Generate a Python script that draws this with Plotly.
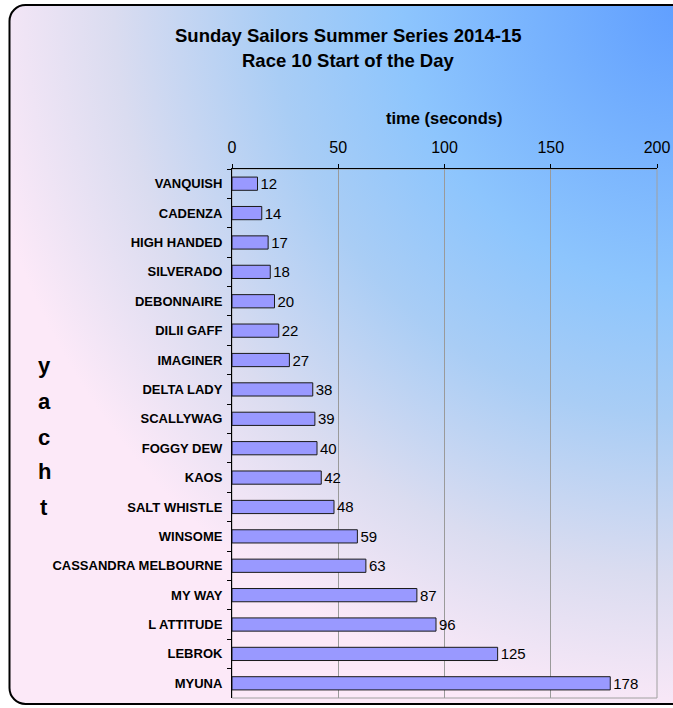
import base64
import plotly.graph_objects as go

yachts = ["VANQUISH", "CADENZA", "HIGH HANDED", "SILVERADO", "DEBONNAIRE", "DILII GAFF",
          "IMAGINER", "DELTA LADY", "SCALLYWAG", "FOGGY DEW", "KAOS", "SALT WHISTLE",
          "WINSOME", "CASSANDRA MELBOURNE", "MY WAY", "L ATTITUDE", "LEBROK", "MYUNA"]
times = [12, 14, 17, 18, 20, 22, 27, 38, 39, 40, 42, 48, 59, 63, 87, 96, 125, 178]
x_ticks = [0, 50, 100, 150, 200]
title_lines = ["Sunday Sailors Summer Series 2014-15", "Race 10 Start of the Day"]
x_title = "time (seconds)"
y_letters = ["y", "a", "c", "h", "t"]

W, H = 673, 708
L, R, T, B = 232, 16, 169, 10
PW, PH = W - L - R, H - T - B
FONT = "Liberation Sans, Arial, sans-serif"


def px(xp):
    return (xp - L) / PW


def py(yp):
    return (H - B - yp) / PH


svg = f"""<svg xmlns='http://www.w3.org/2000/svg' width='{W}' height='{H}' viewBox='0 0 {W} {H}'>
<defs><radialGradient id='g' gradientUnits='userSpaceOnUse' cx='690' cy='0' r='720'>
<stop offset='0' stop-color='#5E9DFF'/><stop offset='0.4' stop-color='#8DC5FD'/>
<stop offset='0.58' stop-color='#A9CDF5'/><stop offset='0.8' stop-color='#DADCF0'/>
<stop offset='1' stop-color='#FCE9F8'/></radialGradient></defs>
<rect x='9.5' y='5' width='720' height='699' rx='16' ry='16' fill='url(#g)' stroke='#000' stroke-width='2'/>
</svg>"""
src = "data:image/svg+xml;base64," + base64.b64encode(svg.encode()).decode()

fig = go.Figure()
fig.add_trace(go.Bar(
    y=yachts, x=times, orientation="h",
    marker=dict(color="#9999FF", line=dict(color="#1a1a1a", width=1)),
    text=[str(t) for t in times], textposition="outside", constraintext="none",
    textfont=dict(family=FONT, size=15, color="#000"),
    cliponaxis=False, hoverinfo="x+y",
))

annotations = []
for line, yp in zip(title_lines, [35, 60]):
    annotations.append(dict(text=line, xref="paper", yref="paper", x=px(348), y=py(yp),
                            xanchor="center", yanchor="middle", showarrow=False,
                            font=dict(family=FONT, size=18.5, color="#000", weight="bold")))
annotations.append(dict(text=x_title, xref="paper", yref="paper", x=px(444), y=py(118),
                        xanchor="center", yanchor="middle", showarrow=False,
                        font=dict(family=FONT, size=16.5, color="#000", weight="bold")))
letter_y = [365, 401, 437, 472, 507]
for ch, yp in zip(y_letters, letter_y):
    annotations.append(dict(text=ch, xref="paper", yref="paper", x=px(44),
                            y=py(yp), xanchor="center", yanchor="middle",
                            showarrow=False,
                            font=dict(family=FONT, size=22, color="#000", weight="bold")))

fig.update_layout(
    width=W, height=H, autosize=False,
    margin=dict(l=L, r=R, t=T, b=B, pad=0),
    paper_bgcolor="white", plot_bgcolor="rgba(0,0,0,0)",
    showlegend=False, bargap=0.55,
    images=[dict(source=src, xref="paper", yref="paper", x=-L / PW, y=1 + T / PH,
                 sizex=W / PW, sizey=H / PH, xanchor="left", yanchor="top",
                 sizing="stretch", layer="below")],
    shapes=[dict(type="rect", xref="paper", yref="paper", x0=0, x1=1, y0=0, y1=1,
                 line=dict(color="#A0A0A0", width=1), layer="below")],
    annotations=annotations,
    xaxis=dict(side="top", range=[0, 200], tickvals=x_ticks, showgrid=True,
               gridcolor="#9A9A9A", gridwidth=1, zeroline=False, automargin=False,
               showline=True, linecolor="#000", linewidth=1,
               ticks="outside", ticklen=4, tickcolor="#000", ticklabelstandoff=5,
               tickfont=dict(family=FONT, size=16, color="#000"), fixedrange=True),
    yaxis=dict(autorange="reversed", showline=True, linecolor="#000", linewidth=1,
               ticks="outside", ticklen=4, tickcolor="#000", tickson="boundaries",
               showgrid=False, ticklabelstandoff=6, automargin=False,
               tickfont=dict(family=FONT, size=13, color="#000", weight="bold"),
               fixedrange=True),
)

fig.write_html("out.html", config={"displayModeBar": False},
               post_script="document.body.style.margin='0';")
